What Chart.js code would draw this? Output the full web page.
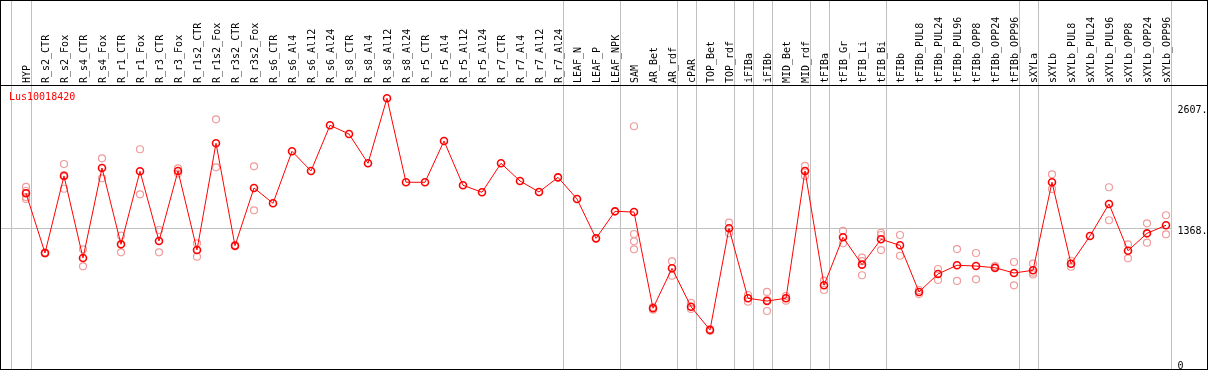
<!DOCTYPE html>
<html>
<head>
<meta charset="utf-8">
<script src="https://cdn.jsdelivr.net/npm/chart.js@4.4.1/dist/chart.umd.min.js"></script>
<style>
  body { margin: 0; background: #fff; }
  #chart { display: block; }
</style>
</head>
<body>
<canvas id="chart" width="1209" height="370"></canvas>
<script>
//gene + sample names
var geneName = 'Lus10018420';
var samples = ['HYP', 'R_s2_CTR', 'R_s2_Fox', 'R_s4_CTR', 'R_s4_Fox', 'R_r1_CTR', 'R_r1_Fox', 'R_r3_CTR', 'R_r3_Fox',
    'R_r1s2_CTR', 'R_r1s2_Fox', 'R_r3s2_CTR', 'R_r3s2_Fox', 'R_s6_CTR', 'R_s6_Al4', 'R_s6_Al12', 'R_s6_Al24',
    'R_s8_CTR', 'R_s8_Al4', 'R_s8_Al12', 'R_s8_Al24', 'R_r5_CTR', 'R_r5_Al4', 'R_r5_Al12', 'R_r5_Al24',
    'R_r7_CTR', 'R_r7_Al4', 'R_r7_Al12', 'R_r7_Al24', 'LEAF_N', 'LEAF_P', 'LEAF_NPK', 'SAM', 'AR_Bet', 'AR_rdf',
    'cPAR', 'TOP_Bet', 'TOP_rdf', 'iFIBa', 'iFIBb', 'MID_Bet', 'MID_rdf', 'tFIBa', 'tFIB_Gr', 'tFIB_Li', 'tFIB_Bi',
    'tFIBb', 'tFIBb_PUL8', 'tFIBb_PUL24', 'tFIBb_PUL96', 'tFIBb_OPP8', 'tFIBb_OPP24', 'tFIBb_OPP96',
    'sXYLa', 'sXYLb', 'sXYLb_PUL8', 'sXYLb_PUL24', 'sXYLb_PUL96', 'sXYLb_OPP8', 'sXYLb_OPP24', 'sXYLb_OPP96'];

//mean expression (line)
var meanValues = [1718, 1110, 1894, 1059, 1975, 1198, 1942, 1232, 1945, 1140,
    2227, 1184, 1772, 1616, 2145, 1945, 2410, 2321, 2023, 2685,
    1830, 1830, 2250, 1799, 1728, 2023, 1843, 1731, 1880, 1660,
    1259, 1534, 1527, 547, 954, 563, 326, 1361, 649, 621,
    649, 1945, 781, 1270, 991, 1249, 1188, 713, 896, 985,
    977, 960, 906, 934, 1830, 1001, 1283, 1609, 1133, 1310, 1392];

//replicates (null = no separate point)
var rep1 = [1782, 1115, 2016, 1147, 2074, 1286, 2166, 1344, 1972, 1208,
    2471, 1190, 1992, null, null, null, null, null, null, null,
    null, null, null, null, null, null, null, null, null, null,
    null, null, 2400, 560, 1025, 601, 335, 1418, 682, 713,
    672, 1996, 828, 1334, 1062, 1316, 1293, 733, 947, 1150,
    1110, 977, 1018, 1001, 1911, 1031, null, 1779, 1198, 1412, 1494];
var rep2 = [1741, 1105, 1764, 974, 1870, 1117, 1707, 1117, 1918, 1072,
    1982, 1178, 1544, null, null, null, null, null, null, null,
    null, null, null, null, null, null, null, null, null, null,
    null, null, 1303, 533, 879, 540, 317, 1310, 614, 630,
    624, 1894, 733, 1208, 883, 1293, 1082, 692, 835, 825,
    842, 954, 781, 909, 1761, 970, null, 1443, 1056, 1215, 1300];
var rep3 = [1680, null, 1902, null, null, null, null, null, null, null,
    null, null, null, null, null, null, null, null, null, null,
    null, null, null, null, null, null, null, null, null, null,
    null, null, 1229, null, null, null, null, null, null, 519,
    null, null, null, null, 1027, 1140, null, null, null, null,
    null, null, null, 891, null, null, null, null, null, null, null];
var rep4 = [1660, null, null, null, null, null, null, null, null, null,
    null, null, null, null, null, null, null, null, null, null,
    null, null, null, null, null, null, null, null, null, null,
    null, null, 1147, null, null, null, null, null, null, null,
    null, null, null, null, null, null, null, null, null, null,
    null, null, null, null, null, null, null, null, null, null, null];

var yTicks = [0, 1368, 2607];
//index of last sample in each group (-1 = left edge)
var groupEnds = [-1, 0, 28, 31, 34, 35, 37, 38, 39, 41, 42, 45, 52, 53, 60];

var monoFont = 'DejaVu Sans Mono';

//grid lines + frame + gene name
var framePlugin = {
    id: 'frame',
    beforeDraw: function (chart) {
        var ctx = chart.ctx;
        var xs = chart.scales.x;
        var ys = chart.scales.y;
        ctx.save();
        ctx.strokeStyle = '#c0c0c0';
        ctx.lineWidth = 1;
        var lastX = 0;
        groupEnds.forEach(function (i) {
            var off = i < 0 ? 3.5 : 4.5;
            var px = Math.round(xs.getPixelForValue(i) + off) + 0.5;
            ctx.beginPath();
            ctx.moveTo(px, 0);
            ctx.lineTo(px, chart.height);
            ctx.stroke();
            lastX = px;
        });
        var py = Math.round(ys.getPixelForValue(yTicks[1])) + 0.5;
        ctx.beginPath();
        ctx.moveTo(0, py);
        ctx.lineTo(lastX, py);
        ctx.stroke();
        ctx.restore();
    },
    afterDraw: function (chart) {
        var ctx = chart.ctx;
        ctx.save();
        ctx.strokeStyle = '#000';
        ctx.lineWidth = 1;
        ctx.strokeRect(0.5, 0.5, 1207, 369);
        ctx.beginPath();
        ctx.moveTo(0, 85.5);
        ctx.lineTo(1208, 85.5);
        ctx.stroke();
        ctx.fillStyle = '#ff0000';
        ctx.font = '10px ' + monoFont;
        ctx.textBaseline = 'alphabetic';
        ctx.fillText(geneName, 9, 100);
        ctx.restore();
    }
};

var repStyle = {
    type: 'line',
    showLine: false,
    pointStyle: 'circle',
    pointRadius: 3.5,
    pointBorderWidth: 1.2,
    pointBorderColor: '#f09c9c',
    pointBackgroundColor: 'rgba(0,0,0,0)',
    order: 1
};

new Chart(document.getElementById('chart'), {
    type: 'line',
    data: {
        labels: samples,
        datasets: [
            {
                label: 'mean',
                data: meanValues,
                borderColor: '#ff0000',
                borderWidth: 1,
                tension: 0,
                pointStyle: 'circle',
                pointRadius: 3.5,
                pointBorderWidth: 1.6,
                pointBorderColor: '#ff0000',
                pointBackgroundColor: 'rgba(0,0,0,0)',
                order: 0
            },
            Object.assign({ label: 'rep1', data: rep1 }, repStyle),
            Object.assign({ label: 'rep2', data: rep2 }, repStyle),
            Object.assign({ label: 'rep3', data: rep3 }, repStyle),
            Object.assign({ label: 'rep4', data: rep4 }, repStyle)
        ]
    },
    options: {
        responsive: false,
        animation: false,
        devicePixelRatio: 1,
        layout: { padding: { left: 16.5, right: 0, top: 0, bottom: 8 } },
        plugins: {
            legend: { display: false },
            tooltip: { enabled: false }
        },
        scales: {
            x: {
                position: 'top',
                offset: true,
                grid: { display: false, drawTicks: false },
                border: { display: false },
                ticks: {
                    autoSkip: false,
                    minRotation: 90,
                    maxRotation: 90,
                    padding: 3,
                    labelOffset: 13,
                    color: '#000',
                    font: { family: monoFont, size: 10 }
                },
                afterFit: function (scale) {
                    scale.height = 86;
                    scale.paddingLeft = 0;
                    scale.paddingRight = 0;
                }
            },
            y: {
                position: 'right',
                min: 0,
                max: 2810,
                grid: { display: false, drawTicks: false },
                border: { display: false },
                afterBuildTicks: function (scale) {
                    scale.ticks = yTicks.map(function (v) { return { value: v }; });
                },
                ticks: {
                    padding: 2,
                    labelOffset: 4,
                    color: '#000',
                    font: { family: monoFont, size: 10 },
                    callback: function (v) { return v === 0 ? '0' : v + '.'; }
                },
                afterFit: function (scale) { scale.width = 33.5; }
            }
        }
    },
    plugins: [framePlugin]
});
</script>
</body>
</html>
